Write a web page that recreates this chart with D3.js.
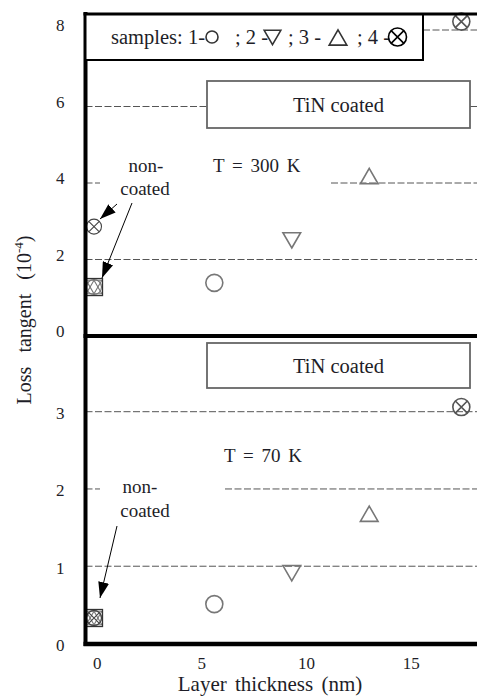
<!DOCTYPE html>
<html>
<head>
<meta charset="utf-8">
<script src="https://cdn.jsdelivr.net/npm/d3@7"></script>
<style>
  html, body { margin: 0; padding: 0; background: #fff; }
  svg text { font-family: "Liberation Serif", "Times New Roman", "DejaVu Serif", serif !important; fill: #1e1e28; }
</style>
</head>
<body>
<div id="container"></div>
<script>
// samples 1..4, coated layer thickness (nm)
const samples = ['1', '2', '3', '4'];
const shapes = ['circle', 'down', 'up', 'otimes'];
const thickness = [5.7, 9.4, 13.1, 17.5];
// loss tangent (1e-4), T = 300 K
const loss300 = [1.39, 2.5, 4.18, 8.22];
const loss300Bare = [1.28, 1.28, 1.28, 2.86];
// loss tangent (1e-4), T = 70 K
const loss70 = [0.51, 0.91, 1.68, 3.06];
const loss70Bare = [0.33, 0.33, 0.33, 0.33];

const xTicks = [0, 5, 10, 15];
const yTicksTop = [0, 2, 4, 6, 8];
const yTicksBot = [0, 1, 2, 3];

let w = 477,
    h = 698;

let viz = d3.select('#container')
    .append('svg')
      .attr('width', w)
      .attr('height', h)
      .style('background', '#fff');

let x = d3.scaleLinear().domain([0, 15]).range([95, 409]);
let yTop = d3.scaleLinear().domain([0, 8]).range([336, 30]);
let yBot = d3.scaleLinear().domain([0, 3]).range([643.5, 411.7]);

let left = 85.5, right = w;

// arrow head
viz.append('defs').append('marker')
    .attr('id', 'head')
    .attr('viewBox', '0 0 16 11')
    .attr('refX', 16).attr('refY', 5.5)
    .attr('markerWidth', 16).attr('markerHeight', 11)
    .attr('markerUnits', 'userSpaceOnUse')
    .attr('orient', 'auto')
  .append('path')
    .attr('d', 'M0,0L16,5.5L0,11Z')
    .attr('fill', '#000');

// dashed grid segments (broken where labels sit)
function grid(y, v, spans) {
    spans.forEach(s => {
        viz.append('line')
            .attr('x1', s[0]).attr('x2', s[1])
            .attr('y1', y(v)).attr('y2', y(v))
            .attr('stroke', '#555')
            .attr('stroke-width', 1)
            .attr('stroke-dasharray', '7,2.5');
    });
}
grid(yTop, 8, [[423, right]]);
grid(yTop, 6, [[left, 207], [470, right]]);
grid(yTop, 4, [[left, 100], [331, right]]);
grid(yTop, 2, [[left, right]]);
grid(yBot, 3, [[left, right]]);
grid(yBot, 2, [[left, 100], [225, right]]);
grid(yBot, 1, [[left, right]]);

// axes
let axL1 = viz.append('g')
    .attr('transform', 'translate(' + left + ',0)')
    .call(d3.axisLeft(yTop).tickValues(yTicksTop).tickSize(0).tickPadding(21).tickFormat(d3.format('d')));
let axL2 = viz.append('g')
    .attr('transform', 'translate(' + left + ',0)')
    .call(d3.axisLeft(yBot).tickValues(yTicksBot).tickSize(0).tickPadding(21).tickFormat(d3.format('d')));
let axB = viz.append('g')
    .attr('transform', 'translate(0,' + 644 + ')')
    .call(d3.axisBottom(x).tickValues(xTicks).tickSize(0).tickPadding(13).tickFormat(d3.format('d')));
[axL1, axL2, axB].forEach(a => {
    a.attr('font-family', null);
    a.select('.domain').remove();
    a.selectAll('text')
        .attr('font-size', 17)
        .attr('fill', '#1e1e28');
});
axL1.selectAll('text').attr('dy', '0.05em');
axL2.selectAll('text').attr('dy', '0.4em');
axB.selectAll('text').attr('dx', '0.1em');

// boxes
function box(x0, y0, x1, y1, label) {
    viz.append('rect')
        .attr('x', x0).attr('y', y0)
        .attr('width', x1 - x0).attr('height', y1 - y0)
        .attr('fill', '#fff')
        .attr('stroke', '#666')
        .attr('stroke-width', 1.8);
    viz.append('text')
        .attr('x', (x0 + x1) / 2).attr('y', (y0 + y1) / 2 + 7)
        .attr('text-anchor', 'middle')
        .attr('font-size', 20.5)
        .text(label);
}
box(207, 81, 470, 128, 'TiN coated');
box(207, 343, 470, 388, 'TiN coated');

// marker drawing
function marker(g, shape, cx, cy, s, col, sw) {
    sw = sw || 1.6;
    if (shape === 'circle') {
        g.append('circle').attr('cx', cx).attr('cy', cy).attr('r', s * 0.5)
            .attr('fill', 'none').attr('stroke', col).attr('stroke-width', sw);
    } else if (shape === 'up' || shape === 'down') {
        let hw = s * 0.52, hh = s * 0.45, d = shape === 'up' ? 1 : -1;
        g.append('path')
            .attr('d', 'M' + cx + ',' + (cy - d * hh) + 'L' + (cx + hw) + ',' + (cy + d * hh) +
                       'L' + (cx - hw) + ',' + (cy + d * hh) + 'Z')
            .attr('fill', 'none').attr('stroke', col).attr('stroke-width', sw);
    } else if (shape === 'otimes') {
        let r = s * 0.5, k = r * 0.7071;
        g.append('circle').attr('cx', cx).attr('cy', cy).attr('r', r)
            .attr('fill', 'none').attr('stroke', col).attr('stroke-width', sw);
        g.append('path')
            .attr('d', 'M' + (cx - k) + ',' + (cy - k) + 'L' + (cx + k) + ',' + (cy + k) +
                       'M' + (cx - k) + ',' + (cy + k) + 'L' + (cx + k) + ',' + (cy - k))
            .attr('fill', 'none').attr('stroke', col).attr('stroke-width', sw);
    } else if (shape === 'square') {
        g.append('rect').attr('x', cx - s / 2).attr('y', cy - s / 2)
            .attr('width', s).attr('height', s)
            .attr('fill', 'none').attr('stroke', col).attr('stroke-width', sw);
    }
}

let pts = viz.append('g');
function panel(y, coated, bare) {
    samples.forEach((s, i) => {
        let col = shapes[i] === 'otimes' ? '#555' : '#777';
        marker(pts, shapes[i], x(thickness[i]), y(coated[i]), 17, col);
        marker(pts, shapes[i], x(0) - 1, y(bare[i]), 15, shapes[i] === 'otimes' ? '#444' : '#777', 1.1);
    });
    marker(pts, 'square', x(0) - 1, y(bare[0]), 17, '#333', 1.3);
}
panel(yTop, loss300, loss300Bare);
panel(yBot, loss70, loss70Bare);

// frame
let frame = viz.append('g').attr('stroke', '#000').attr('fill', 'none');
frame.append('line').attr('x1', left).attr('x2', left).attr('y1', 12).attr('y2', 646).attr('stroke-width', 4);
frame.append('line').attr('x1', left - 2).attr('x2', right).attr('y1', yTop(0)).attr('y2', yTop(0)).attr('stroke-width', 4);
frame.append('line').attr('x1', left - 2).attr('x2', right).attr('y1', 644).attr('y2', 644).attr('stroke-width', 4.5);

// legend
let lg = viz.append('g');
lg.append('rect').attr('x', left).attr('y', 14).attr('width', 423 - left).attr('height', 46)
    .attr('fill', '#fff').attr('stroke', '#000').attr('stroke-width', 2);
viz.append('line').attr('x1', left - 2).attr('x2', right).attr('y1', 14).attr('y2', 14)
    .attr('stroke', '#000').attr('stroke-width', 3);
let lgY = 43.5;
[['samples: 1-', 205, 'end'], ['; 2 -', 235, 'start'], ['; 3 -', 288, 'start'], ['; 4 -', 357, 'start']].forEach(p => {
    lg.append('text').attr('x', p[1]).attr('y', lgY).attr('font-size', 20.5)
        .attr('text-anchor', p[2]).attr('xml:space', 'preserve').text(p[0]);
});
marker(lg, 'circle', 212, 37, 12, '#333');
marker(lg, 'down', 272.5, 37.5, 16, '#333');
marker(lg, 'up', 338, 37.5, 17, '#333');
marker(lg, 'otimes', 397.5, 37, 18, '#000');

// annotations
function label(x0, y0, t, anchor, ws) {
    viz.append('text').attr('x', x0).attr('y', y0).attr('font-size', 19)
        .attr('word-spacing', ws || 0)
        .attr('text-anchor', anchor || 'start').text(t);
}
label(213, 172, 'T = 300 K', 'start', 3);
label(224, 462, 'T = 70 K', 'start', 3);
label(146, 171.5, 'non-', 'middle');
label(145, 195, 'coated', 'middle');
label(140, 493, 'non-', 'middle');
label(145, 517, 'coated', 'middle');

function arrow(x1, y1, x2, y2) {
    viz.append('line')
        .attr('x1', x1).attr('y1', y1).attr('x2', x2).attr('y2', y2)
        .attr('stroke', '#000').attr('stroke-width', 1)
        .attr('marker-end', 'url(#head)');
}
arrow(117, 204, 100, 219);
arrow(132, 203, 102, 278);
arrow(117, 526, 100, 598);

// axis titles
viz.append('text')
    .attr('x', 270).attr('y', 691)
    .attr('text-anchor', 'middle')
    .attr('font-size', 21)
    .attr('fill', '#2a2a2a')
    .attr('word-spacing', 3)
    .text('Layer  thickness (nm)');

let yl = viz.append('text')
    .attr('transform', 'translate(31,320) rotate(-90)')
    .attr('text-anchor', 'middle')
    .attr('font-size', 20)
    .attr('fill', '#3a2a22')
    .attr('word-spacing', 9);
yl.append('tspan').text('Loss tangent   (10');
yl.append('tspan').attr('font-size', 13).attr('dy', -8).text('-4');
yl.append('tspan').attr('dy', 8).text(')');
</script>
</body>
</html>
